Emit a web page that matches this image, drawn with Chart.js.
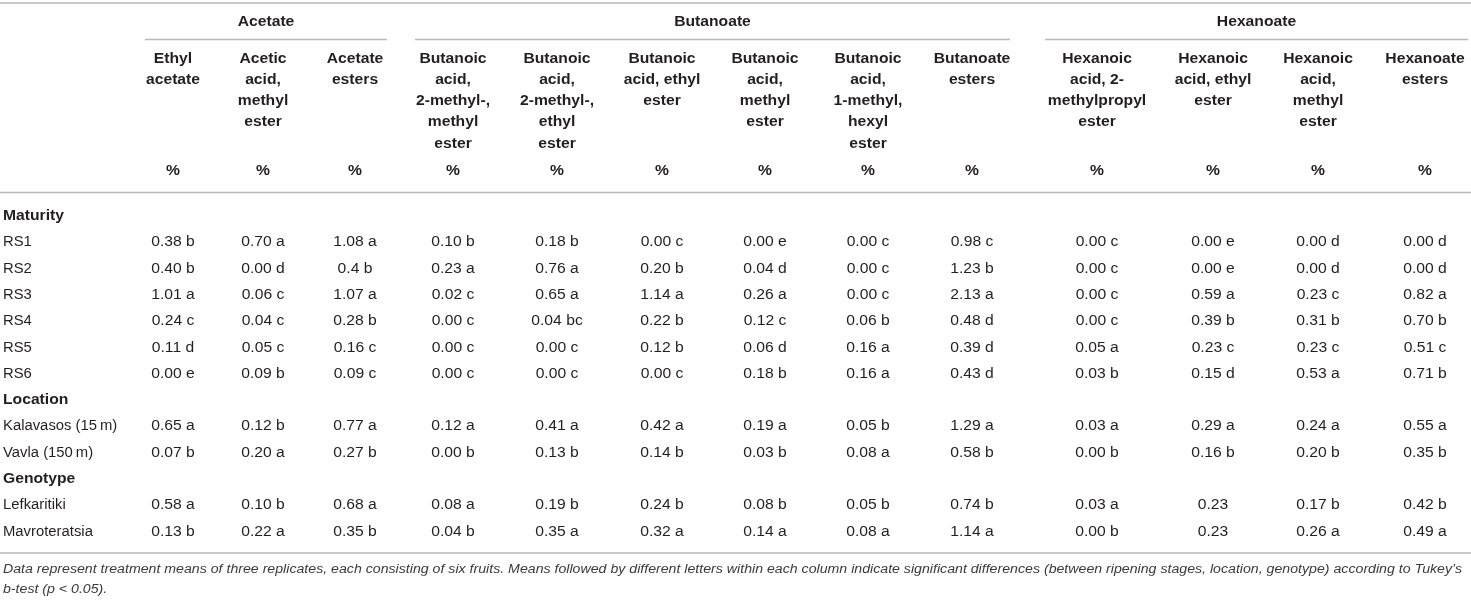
<!DOCTYPE html>
<html>
<head>
<meta charset="utf-8">
<script src="https://cdn.jsdelivr.net/npm/chart.js@4.4.1/dist/chart.umd.min.js"></script>
<style>
  html, body { margin: 0; padding: 0; background: #fff; }
  canvas { display: block; }
</style>
</head>
<body>
<canvas id="table" width="1471" height="600"></canvas>
<script>
// 表格資料
const groupNames = ['Acetate', 'Butanoate', 'Hexanoate'];
const compoundNames = [
  ['Ethyl', 'acetate'],
  ['Acetic', 'acid,', 'methyl', 'ester'],
  ['Acetate', 'esters'],
  ['Butanoic', 'acid,', '2-methyl-,', 'methyl', 'ester'],
  ['Butanoic', 'acid,', '2-methyl-,', 'ethyl', 'ester'],
  ['Butanoic', 'acid, ethyl', 'ester'],
  ['Butanoic', 'acid,', 'methyl', 'ester'],
  ['Butanoic', 'acid,', '1-methyl,', 'hexyl', 'ester'],
  ['Butanoate', 'esters'],
  ['Hexanoic', 'acid, 2-', 'methylpropyl', 'ester'],
  ['Hexanoic', 'acid, ethyl', 'ester'],
  ['Hexanoic', 'acid,', 'methyl', 'ester'],
  ['Hexanoate', 'esters']
];
const unitLabel = '%';
const sectionNames = ['Maturity', 'Location', 'Genotype'];
const maturityRows = ['RS1', 'RS2', 'RS3', 'RS4', 'RS5', 'RS6'];
const locationRows = ['Kalavasos (15\u2009m)', 'Vavla (150\u2009m)'];
const genotypeRows = ['Lefkaritiki', 'Mavroteratsia'];

const maturityValues = [
  ['0.38 b', '0.70 a', '1.08 a', '0.10 b', '0.18 b', '0.00 c', '0.00 e', '0.00 c', '0.98 c', '0.00 c', '0.00 e', '0.00 d', '0.00 d'],
  ['0.40 b', '0.00 d', '0.4 b', '0.23 a', '0.76 a', '0.20 b', '0.04 d', '0.00 c', '1.23 b', '0.00 c', '0.00 e', '0.00 d', '0.00 d'],
  ['1.01 a', '0.06 c', '1.07 a', '0.02 c', '0.65 a', '1.14 a', '0.26 a', '0.00 c', '2.13 a', '0.00 c', '0.59 a', '0.23 c', '0.82 a'],
  ['0.24 c', '0.04 c', '0.28 b', '0.00 c', '0.04 bc', '0.22 b', '0.12 c', '0.06 b', '0.48 d', '0.00 c', '0.39 b', '0.31 b', '0.70 b'],
  ['0.11 d', '0.05 c', '0.16 c', '0.00 c', '0.00 c', '0.12 b', '0.06 d', '0.16 a', '0.39 d', '0.05 a', '0.23 c', '0.23 c', '0.51 c'],
  ['0.00 e', '0.09 b', '0.09 c', '0.00 c', '0.00 c', '0.00 c', '0.18 b', '0.16 a', '0.43 d', '0.03 b', '0.15 d', '0.53 a', '0.71 b']
];
const locationValues = [
  ['0.65 a', '0.12 b', '0.77 a', '0.12 a', '0.41 a', '0.42 a', '0.19 a', '0.05 b', '1.29 a', '0.03 a', '0.29 a', '0.24 a', '0.55 a'],
  ['0.07 b', '0.20 a', '0.27 b', '0.00 b', '0.13 b', '0.14 b', '0.03 b', '0.08 a', '0.58 b', '0.00 b', '0.16 b', '0.20 b', '0.35 b']
];
const genotypeValues = [
  ['0.58 a', '0.10 b', '0.68 a', '0.08 a', '0.19 b', '0.24 b', '0.08 b', '0.05 b', '0.74 b', '0.03 a', '0.23', '0.17 b', '0.42 b'],
  ['0.13 b', '0.22 a', '0.35 b', '0.04 b', '0.35 a', '0.32 a', '0.14 a', '0.08 a', '1.14 a', '0.00 b', '0.23', '0.26 a', '0.49 a']
];
const footnoteLines = [
  'Data represent treatment means of three replicates, each consisting of six fruits. Means followed by different letters within each column indicate significant differences (between ripening stages, location, genotype) according to Tukey\u2019s',
  'b-test (p < 0.05).'
];

// 版面設定（x 以像素單位，y 以列為單位）
const WIDTH = 1471, HEIGHT = 600;
const ROW0 = 216, ROW_H = 26.33;
const toRow = px => (px - ROW0) / ROW_H;
const LABEL_X = 3;
const COL_X = [173, 263, 355, 453, 557, 662, 765, 868, 972, 1097, 1213, 1318, 1425];
const GROUP_RULES = [[145, 387], [415, 1010], [1045, 1468]];
const HEAD_LINE0 = 59, HEAD_LINE_STEP = 21.2;
const GROUP_TITLE_Y = 22, GROUP_RULE_Y = 39.5, UNIT_Y = 171;
const TOP_RULE_Y = 3, HEAD_RULE_Y = 192.5, BOTTOM_RULE_Y = 553;
const FOOT_Y = [570, 590], FOOT_W = 1459;
const TEXT_COLOR = '#231f20', RULE_COLOR = '#b9b9b9';
const STRETCH = 1.12, LABEL_STRETCH = 1.06;

// 組成資料點
const groupPoints = groupNames.map((g, i) => ({
  x: (GROUP_RULES[i][0] + GROUP_RULES[i][1]) / 2, y: toRow(GROUP_TITLE_Y), text: g
}));
const headerPoints = [];
compoundNames.forEach((lines, c) => {
  lines.forEach((line, k) => {
    headerPoints.push({ x: COL_X[c], y: toRow(HEAD_LINE0 + k * HEAD_LINE_STEP), text: line });
  });
});
const unitPoints = COL_X.map(cx => ({ x: cx, y: toRow(UNIT_Y), text: unitLabel }));

const sectionPoints = [], labelPoints = [], valuePoints = [];
let row = 0;
[[maturityRows, maturityValues], [locationRows, locationValues], [genotypeRows, genotypeValues]]
  .forEach(([labels, values], s) => {
    sectionPoints.push({ x: LABEL_X, y: row, text: sectionNames[s] });
    row++;
    labels.forEach((lab, r) => {
      labelPoints.push({ x: LABEL_X, y: row, text: lab });
      values[r].forEach((v, c) => valuePoints.push({ x: COL_X[c], y: row, text: v }));
      row++;
    });
  });
const footPoints = footnoteLines.map((t, i) => ({ x: LABEL_X, y: toRow(FOOT_Y[i]), text: t }));

function textSet(data, font, align, extra = {}) {
  return Object.assign({
    data: data, font: font, align: align, color: TEXT_COLOR, stretch: STRETCH,
    pointRadius: 0, pointHoverRadius: 0, showLine: false
  }, extra);
}

/**
 * 畫表格線與文字
 */
const tablePlugin = {
  id: 'tablePlugin',
  afterDatasetsDraw(chart) {
    const { ctx, scales: { x, y } } = chart;
    ctx.save();
    ctx.strokeStyle = RULE_COLOR;
    ctx.lineWidth = 1.5;
    const hline = (x0, x1, rowVal) => {
      const py = y.getPixelForValue(rowVal);
      ctx.beginPath();
      ctx.moveTo(x.getPixelForValue(x0), py);
      ctx.lineTo(x.getPixelForValue(x1), py);
      ctx.stroke();
    };
    hline(0, WIDTH, toRow(TOP_RULE_Y));
    GROUP_RULES.forEach(([a, b]) => hline(a, b, toRow(GROUP_RULE_Y)));
    hline(0, WIDTH, toRow(HEAD_RULE_Y));
    hline(0, WIDTH, toRow(BOTTOM_RULE_Y));

    ctx.textBaseline = 'middle';
    chart.data.datasets.forEach((ds, i) => {
      const meta = chart.getDatasetMeta(i);
      ctx.font = ds.font;
      ctx.fillStyle = ds.color;
      ctx.textAlign = ds.align;
      let sx = ds.stretch;
      if (ds.fitWidth) sx = ds.fitWidth / ctx.measureText(ds.data[0].text).width;
      meta.data.forEach((pt, j) => {
        ctx.save();
        ctx.translate(pt.x, pt.y);
        ctx.scale(sx, 1);
        ctx.fillText(ds.data[j].text, 0, 0);
        ctx.restore();
      });
    });
    ctx.restore();
  }
};

const BOLD = 'bold 14px "Liberation Sans", Arial, sans-serif';
const NORMAL = '14px "Liberation Sans", Arial, sans-serif';

new Chart(document.getElementById('table'), {
  type: 'scatter',
  data: {
    datasets: [
      textSet(groupPoints, BOLD, 'center'),
      textSet(headerPoints, BOLD, 'center'),
      textSet(unitPoints, BOLD, 'center'),
      textSet(sectionPoints, BOLD, 'left'),
      textSet(labelPoints, NORMAL, 'left', { stretch: LABEL_STRETCH }),
      textSet(valuePoints, NORMAL, 'center'),
      textSet(footPoints, 'italic 12.5px "Liberation Sans", Arial, sans-serif', 'left',
        { fitWidth: FOOT_W, color: '#3a3a3a' })
    ]
  },
  options: {
    responsive: false,
    animation: false,
    devicePixelRatio: 1,
    layout: { padding: 0 },
    plugins: { legend: { display: false }, tooltip: { enabled: false } },
    scales: {
      x: { type: 'linear', min: 0, max: WIDTH, display: false },
      y: { type: 'linear', min: toRow(0), max: toRow(HEIGHT), reverse: true, display: false }
    }
  },
  plugins: [tablePlugin]
});
</script>
</body>
</html>
